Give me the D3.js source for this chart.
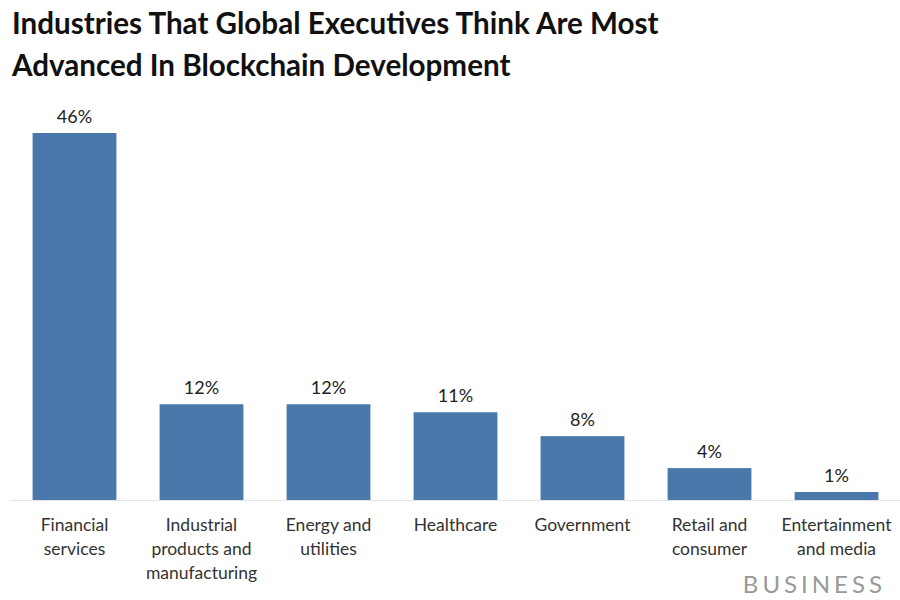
<!DOCTYPE html>
<html><head><meta charset="utf-8">
<script src="https://cdn.jsdelivr.net/npm/d3@7"></script>
<style>body{margin:0;background:#fff;} svg{display:block;}</style>
</head><body>
<svg id="c" width="900" height="600"></svg>
<script>
const categories = ["Financial services","Industrial products and manufacturing","Energy and utilities","Healthcare","Government","Retail and consumer","Entertainment and media"];
const labelLines = [["Financial","services"],["Industrial","products and","manufacturing"],["Energy and","utilities"],["Healthcare"],["Government"],["Retail and","consumer"],["Entertainment","and media"]];
const values = [46,12,12,11,8,4,1];
const titleLines = ["Industries That Global Executives Think Are Most","Advanced In Blockchain Development"];

const svg = d3.select("#c");
const font = "Lato, 'Open Sans', sans-serif";
const x = d3.scaleBand().domain(categories).range([11, 900]).paddingInner(0.34).paddingOuter(0.17);
const y = d3.scaleLinear().domain([0, 46]).range([500, 133]);

svg.append("g").selectAll("text").data(titleLines).join("text")
  .attr("x", 12).attr("y", (d,i)=>34 + i*42)
  .attr("font-family", font).attr("font-weight", 700).attr("font-size", 29.6)
  .attr("fill", "#111").text(d=>d);

svg.append("line").attr("x1", 10).attr("x2", 900).attr("y1", 500.5).attr("y2", 500.5)
  .attr("stroke", "#e3e3e3").attr("stroke-width", 1);

svg.append("g").selectAll("rect").data(values).join("rect")
  .attr("x", (d,i)=>x(categories[i])).attr("width", x.bandwidth())
  .attr("y", d=>y(d)).attr("height", d=>y(0)-y(d))
  .attr("fill", "#4a78aa");

svg.append("g").selectAll("text").data(values).join("text")
  .attr("x", (d,i)=>x(categories[i]) + x.bandwidth()/2).attr("y", d=>y(d)-10)
  .attr("text-anchor", "middle").attr("font-family", font).attr("font-size", 18)
  .attr("fill", "#222").text(d=>d+"%");

const lg = svg.append("g");
labelLines.forEach((lines, i) => {
  lines.forEach((t, j) => {
    lg.append("text").attr("x", x(categories[i]) + x.bandwidth()/2).attr("y", 531 + j*24)
      .attr("text-anchor", "middle").attr("font-family", font).attr("font-size", 17.5)
      .attr("fill", "#333").text(t);
  });
});

svg.append("text").attr("x", 886).attr("y", 593).attr("text-anchor", "end")
  .attr("font-family", font).attr("font-size", 24).attr("letter-spacing", 4)
  .attr("fill", "#999").text("BUSINESS");
</script>
</body></html>
